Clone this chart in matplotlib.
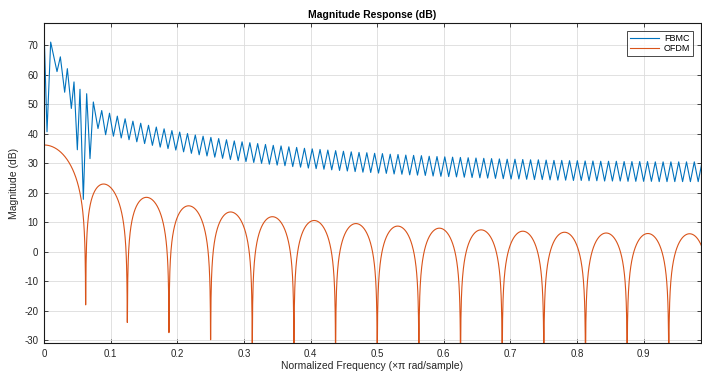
import numpy as np
import matplotlib
matplotlib.use("Agg")
import matplotlib.pyplot as plt

# ---- data ----
# OFDM: rectangular pulse, 32 taps of amplitude 2 (peak 36 dB, nulls every 0.0625)
ofdm_taps = [2.0] * 32
n_freq = 4096

# FBMC: first part read point by point (normalized freq, dB)
fbmc_start_freq = [0.000, 0.0045, 0.010, 0.0195, 0.0245, 0.031, 0.035, 0.041,
                   0.045, 0.050, 0.054, 0.059, 0.064, 0.069, 0.074, 0.081]
fbmc_start_db = [75.5, 40.6, 71.0, 61.0, 66.0, 54.0, 62.0, 48.5,
                 57.5, 34.5, 55.0, 17.7, 53.5, 31.5, 50.7, 41.7]

# FBMC ripple after that: peaks / troughs, one per ripple period
fbmc_first_peak = 0.0866
fbmc_period = 0.0117
fbmc_peaks = [47.8, 46.9, 45.9, 45.0, 44.2, 43.5, 42.8, 42.2, 41.6, 41.0,
              40.5, 40.0, 39.5, 39.1, 38.7, 38.3, 37.9, 37.5, 37.2, 36.9,
              36.6, 36.3, 36.0, 35.8, 35.5, 35.3, 35.0, 34.8, 34.6, 34.4,
              34.2, 34.0, 33.8, 33.6, 33.5, 33.3, 33.2, 33.0, 32.9, 32.7,
              32.6, 32.5, 32.3, 32.2, 32.1, 32.0, 31.9, 31.8, 31.7, 31.6,
              31.5, 31.4, 31.3, 31.3, 31.2, 31.1, 31.1, 31.0, 30.9, 30.9,
              30.8, 30.8, 30.7, 30.7, 30.6, 30.6, 30.6, 30.5, 30.5, 30.5,
              30.5, 30.4, 30.4, 30.4, 30.4, 30.4, 30.4, 30.4]
fbmc_troughs = [39.6, 39.1, 38.5, 37.9, 37.2, 36.6, 36.0, 35.4, 34.9, 34.4,
                33.8, 33.3, 32.8, 32.4, 32.0, 31.6, 31.2, 30.8, 30.5, 30.2,
                29.9, 29.6, 29.3, 29.1, 28.8, 28.6, 28.3, 28.1, 27.9, 27.7,
                27.5, 27.3, 27.1, 26.9, 26.8, 26.6, 26.5, 26.3, 26.2, 26.0,
                25.9, 25.8, 25.6, 25.5, 25.4, 25.3, 25.2, 25.1, 25.0, 24.9,
                24.8, 24.7, 24.6, 24.6, 24.5, 24.4, 24.4, 24.3, 24.2, 24.2,
                24.1, 24.1, 24.0, 24.0, 23.9, 23.9, 23.9, 23.8, 23.8, 23.8,
                23.8, 23.7, 23.7, 23.7, 23.7, 23.7, 23.7, 23.7]

x_ticks = [0, 0.1, 0.2, 0.3, 0.4, 0.5, 0.6, 0.7, 0.8, 0.9]
x_ticklabels = ['0', '0.1', '0.2', '0.3', '0.4', '0.5', '0.6', '0.7', '0.8', '0.9']
y_ticks = [-30, -20, -10, 0, 10, 20, 30, 40, 50, 60, 70]

# ---- build curves ----
w = (np.arange(n_freq) + 0.5) / n_freq          # x pi rad/sample
n = np.arange(len(ofdm_taps))
H = np.exp(-1j * np.pi * np.outer(w, n)) @ np.array(ofdm_taps)
ofdm_db = 20 * np.log10(np.abs(H))

k = np.arange(len(fbmc_peaks))
peak_f = fbmc_first_peak + fbmc_period * k
trough_f = peak_f + fbmc_period / 2
rip_f = np.column_stack([peak_f, trough_f]).ravel()
rip_db = np.column_stack([fbmc_peaks, fbmc_troughs]).ravel()
fbmc_f = np.concatenate([fbmc_start_freq, rip_f])
fbmc_db = np.concatenate([fbmc_start_db, rip_db])

# ---- plot ----
plt.rcParams['font.family'] = ['Liberation Sans', 'DejaVu Sans']
plt.rcParams['axes.unicode_minus'] = False
txt = '#262626'
fig = plt.figure(figsize=(7.02, 3.78), dpi=100)
ax = fig.add_axes([0.0627, 0.0926, 0.936, 0.846])

ax.plot(fbmc_f, fbmc_db, color='#0072BD', lw=0.8, label='FBMC')
ax.plot(w, ofdm_db, color='#D95319', lw=0.8, label='OFDM')

ax.set_xlim(0, 0.986)
ax.set_ylim(-31, 77.4)
ax.set_xticks(x_ticks)
ax.set_xticklabels(x_ticklabels)
ax.set_yticks(y_ticks)
ax.grid(True, color='#dcdcdc', lw=0.6)
ax.set_axisbelow(True)
ax.tick_params(direction='in', length=3, width=0.6, labelsize=7, colors=txt,
               top=True, right=True, pad=4)
for s in ax.spines.values():
    s.set_color('#1a1a1a')
    s.set_linewidth(0.8)

ax.set_title('Magnitude Response (dB)', fontsize=7.5, fontweight='bold',
             family=['Liberation Sans Narrow', 'Liberation Sans'], pad=4)
ax.set_xlabel('Normalized Frequency (\u00d7\u03c0 rad/sample)', fontsize=7.5,
              color=txt, labelpad=2)
ax.set_ylabel('Magnitude (dB)', fontsize=7.5, color=txt, labelpad=4)

leg = ax.legend(loc='upper right', fontsize=6.5, frameon=True, fancybox=False,
                borderpad=0.3, handlelength=3.3, handletextpad=0.5,
                labelspacing=0.1, borderaxespad=0.9)
leg.get_frame().set_edgecolor('#1a1a1a')
leg.get_frame().set_linewidth(0.7)

fig.savefig('out.png', dpi=100)
